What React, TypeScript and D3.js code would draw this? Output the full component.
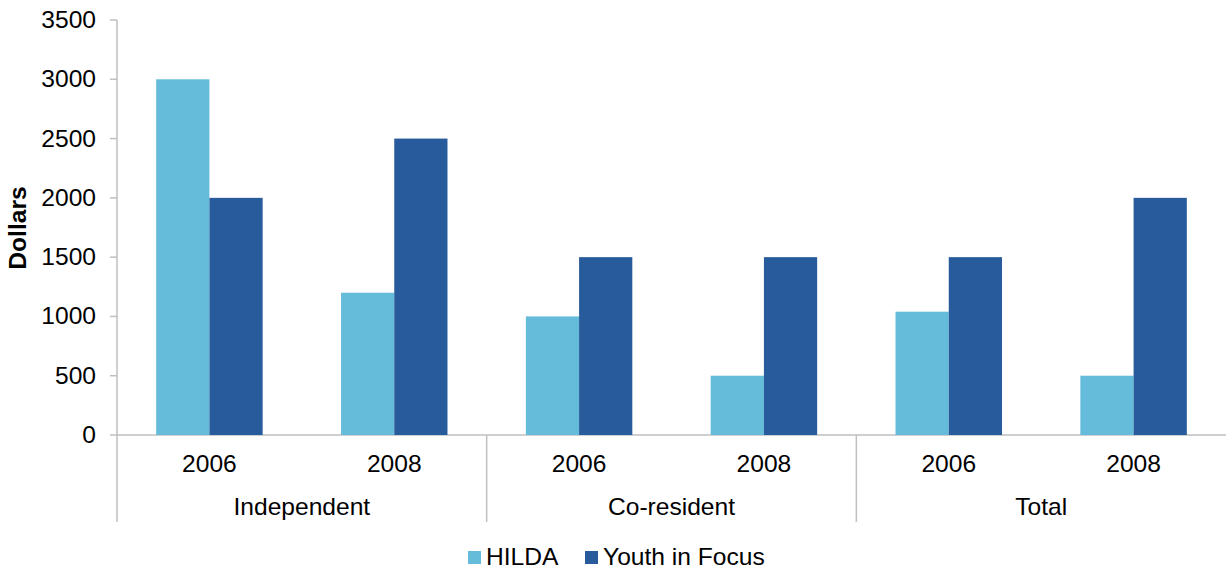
import React from "react";
import * as d3 from "d3";

const groups = ["Independent", "Co-resident", "Total"];
const years = ["2006", "2008"];
const seriesNames = ["HILDA", "Youth in Focus"];
const hilda = [3000, 1200, 1000, 500, 1040, 500];
const youth = [2000, 2500, 1500, 1500, 1500, 2000];
const yTicks = [0, 500, 1000, 1500, 2000, 2500, 3000, 3500];
const colors = ["#65BCDA", "#285B9B"];

export default function App() {
  const W = 1226, H = 571;
  const left = 117, right = 1226, top = 20, bottom = 435;
  const cats = groups.flatMap((g) => years.map((y) => `${g}|${y}`));
  const x = d3.scaleBand().domain(cats).range([left, right]).paddingInner(0).paddingOuter(0);
  const y = d3.scaleLinear().domain([0, 3500]).range([bottom, top]);
  const bw = x.bandwidth();
  const barW = bw * 0.288;
  const font = "Liberation Sans, Arial, sans-serif";
  const fs = 23;
  const values = [hilda, youth];
  const sx = 1.07;
  const T = (props: any) => {
    const { x: tx, y: ty, children, anchor, ...rest } = props;
    return (
      <g transform={`translate(${tx},${ty}) scale(${sx},1)`}>
        <text x={0} y={0} dy="0.35em" textAnchor={anchor} fontSize={fs} fill="#000" {...rest}>{children}</text>
      </g>
    );
  };
  return (
    <svg width={W} height={H} style={{ position: "absolute", left: 0, top: 0 }} fontFamily={font}>
      <line x1={left} x2={left} y1={top} y2={522} stroke="#BFBFBF" strokeWidth={1.5} />
      <line x1={left} x2={right} y1={bottom} y2={bottom} stroke="#BFBFBF" strokeWidth={1.5} />
      {yTicks.map((t) => (
        <g key={t}>
          <line x1={left - 7} x2={left} y1={y(t)} y2={y(t)} stroke="#BFBFBF" strokeWidth={1.5} />
          <T x={96} y={y(t)} anchor="end">{t}</T>
        </g>
      ))}
      {groups.map((g, gi) => {
        const x0 = x(`${g}|${years[0]}`)!;
        const x1 = x(`${g}|${years[years.length - 1]}`)! + bw;
        return (
          <g key={g}>
            {gi > 0 && <line x1={x0} x2={x0} y1={bottom} y2={522} stroke="#BFBFBF" strokeWidth={1.5} />}
            <T x={(x0 + x1) / 2} y={507} anchor="middle">{g}</T>
          </g>
        );
      })}
      {cats.map((c, i) => {
        const cx = x(c)! + bw / 2;
        return (
          <g key={c}>
            <T x={cx} y={464} anchor="middle">{c.split("|")[1]}</T>
            {values.map((vals, si) => (
              <rect key={si} x={cx - barW + si * barW} y={y(vals[i])} width={barW}
                height={bottom - y(vals[i])} fill={colors[si]} />
            ))}
          </g>
        );
      })}
      <g transform={`translate(18,228) rotate(-90) scale(${sx},1)`}>
        <text x={0} y={0} dy="0.35em" textAnchor="middle" fontSize={fs} fontWeight="bold">Dollars</text>
      </g>
      <g>
        <rect x={468} y={551} width={13} height={13} fill={colors[0]} />
        <T x={486} y={557} anchor="start">{seriesNames[0]}</T>
        <rect x={585} y={551} width={13} height={13} fill={colors[1]} />
        <T x={603} y={557} anchor="start">{seriesNames[1]}</T>
      </g>
    </svg>
  );
}
